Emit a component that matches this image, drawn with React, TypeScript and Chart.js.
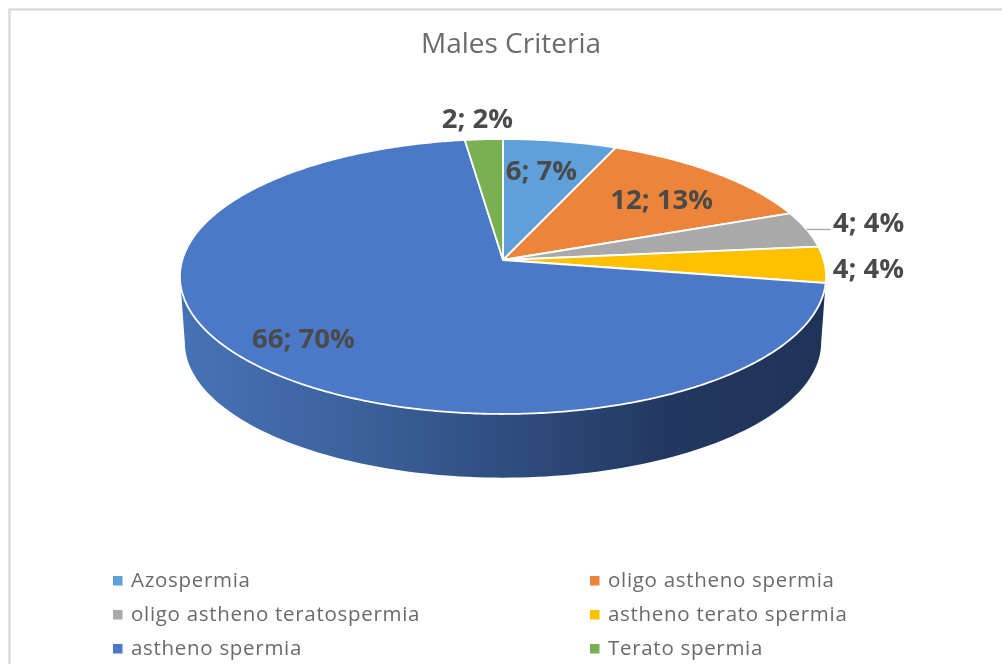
import React, { useEffect, useRef } from "react";
import { Chart, registerables } from "chart.js";

Chart.register(...registerables);

const title = "Males Criteria";
const categories = [
  "Azospermia",
  "oligo astheno spermia",
  "oligo astheno teratospermia",
  "astheno terato spermia",
  "astheno spermia",
  "Terato spermia",
];
const counts = [6, 12, 4, 4, 66, 2];
const percents = [7, 13, 4, 4, 70, 2];
const colors = ["#5f9fda", "#ec843a", "#a9a9a9", "#ffc000", "#4b79c7", "#79b052"];

// Perspective projection of the unit disc on to the page.
const CX = 503;
const CY = 260;
const RX = 320.7;
const RY = 135.5;
const K = -0.12;
const TILT_EXTREME = Math.acos(-0.12);

function project(theta: number, r: number, cy = CY, sx = 1, sy = 1) {
  const X = r * Math.sin(theta);
  const Y = -r * Math.cos(theta);
  const d = 1 + K * Y;
  return { x: CX + (RX * sx * X) / d, y: cy + (RY * sy * Y) / d };
}

// Label placement: radial fraction, then a nudge in px.
const labelPlace = [
  { r: 0.72, dx: -4, dy: 0 },
  { r: 0.72, dx: 2, dy: 5 },
  { r: 1.15, dx: 18, dy: -1 },
  { r: 1.15, dx: -5, dy: 5 },
  { r: 0.72, dx: -23, dy: 8 },
  { r: 1.15, dx: -4, dy: -3 },
];

const pie3d = {
  id: "pie3d",
  beforeDatasetsDraw(chart: any) {
    const ctx: any = chart.ctx;
    const arcs = chart.getDatasetMeta(0).data;
    ctx.save();

    // frame
    ctx.strokeStyle = "#dcdcdc";
    ctx.lineWidth = 2.5;
    ctx.beginPath();
    ctx.moveTo(9.5, 664);
    ctx.lineTo(9.5, 9.5);
    ctx.lineTo(1002, 9.5);
    ctx.stroke();

    // side wall
    const grad = ctx.createLinearGradient(181, 0, 825, 0);
    grad.addColorStop(0, "#4672b6");
    grad.addColorStop(0.25, "#3d639e");
    grad.addColorStop(0.5, "#2f4e80");
    grad.addColorStop(0.75, "#233860");
    grad.addColorStop(1, "#1f3358");
    ctx.fillStyle = grad;
    ctx.beginPath();
    const steps = 120;
    const a0 = TILT_EXTREME;
    const a1 = 2 * Math.PI - TILT_EXTREME;
    for (let i = 0; i <= steps; i++) {
      const p = project(a0 + ((a1 - a0) * i) / steps, 1);
      i ? ctx.lineTo(p.x, p.y) : ctx.moveTo(p.x, p.y);
    }
    for (let i = steps; i >= 0; i--) {
      const p = project(a0 + ((a1 - a0) * i) / steps, 1, 326, 0.985, 0.985);
      ctx.lineTo(p.x, p.y);
    }
    ctx.closePath();
    ctx.fill();

    // slices, from the angles Chart.js computed
    arcs.forEach((arc: any, i: number) => {
      const s = arc.startAngle + Math.PI / 2;
      const e = arc.endAngle + Math.PI / 2;
      ctx.beginPath();
      ctx.moveTo(CX, CY);
      const n = Math.max(4, Math.ceil((e - s) / 0.01));
      for (let j = 0; j <= n; j++) {
        const p = project(s + ((e - s) * j) / n, 1);
        ctx.lineTo(p.x, p.y);
      }
      ctx.closePath();
      ctx.fillStyle = colors[i];
      ctx.fill();
      ctx.strokeStyle = "#ffffff";
      ctx.lineWidth = 1.8;
      ctx.lineJoin = "round";
      ctx.stroke();
    });

    // leader line of the grey slice
    const g = arcs[2];
    const gm = project((g.startAngle + g.endAngle) / 2 + Math.PI / 2, 1);
    ctx.strokeStyle = "#a6a6a6";
    ctx.lineWidth = 1.3;
    ctx.beginPath();
    ctx.moveTo(gm.x, gm.y);
    ctx.lineTo(gm.x + 24, gm.y);
    ctx.stroke();

    // data labels
    ctx.font = "bold 27.5px 'Open Sans'";
    ctx.fillStyle = "#4a4a4a";
    ctx.textAlign = "center";
    ctx.textBaseline = "middle";
    arcs.forEach((arc: any, i: number) => {
      const mid = (arc.startAngle + arc.endAngle) / 2 + Math.PI / 2;
      const pl = labelPlace[i];
      const p = project(mid, pl.r);
      ctx.fillText(`${counts[i]}; ${percents[i]}%`, p.x + pl.dx, p.y + pl.dy);
    });

    // legend, two columns
    ctx.font = "20.5px 'Open Sans'";
    ctx.letterSpacing = "0.7px";
    ctx.textAlign = "left";
    categories.forEach((c, i) => {
      const col = i % 2;
      const row = Math.floor(i / 2);
      const x = col ? 590 : 113;
      const y = 581 + row * 34;
      ctx.fillStyle = colors[i];
      ctx.fillRect(x, y - 5, 9.5, 9.5);
      ctx.fillStyle = "#6a6a6a";
      ctx.fillText(c, x + 18, y);
    });
    ctx.letterSpacing = "0px";

    ctx.restore();
    return false;
  },
};

export default function App() {
  const ref = useRef<HTMLCanvasElement | null>(null);
  useEffect(() => {
    document.body.style.margin = "0";
    document.body.style.background = "#ffffff";
    const chart = new Chart(ref.current as HTMLCanvasElement, {
      type: "pie",
      data: {
        labels: categories,
        datasets: [{ data: counts, backgroundColor: colors, borderColor: "#ffffff" }],
      },
      options: {
        responsive: false,
        animation: false,
        layout: { padding: { left: 20 } },
        plugins: {
          legend: { display: false },
          tooltip: { enabled: false },
          title: {
            display: true,
            text: title,
            color: "#6b6b6b",
            font: { family: "'Open Sans'", size: 28, weight: "normal" },
            padding: { top: 28, bottom: 10 },
          },
        },
      },
      plugins: [pie3d],
    } as any);
    return () => chart.destroy();
  }, []);
  return (
    <div style={{ position: "absolute", left: 0, top: 0, width: 1002, height: 664, overflow: "hidden" }}>
      <canvas ref={ref} width={1002} height={664} style={{ display: "block", filter: "blur(0.4px)" }} />
    </div>
  );
}
